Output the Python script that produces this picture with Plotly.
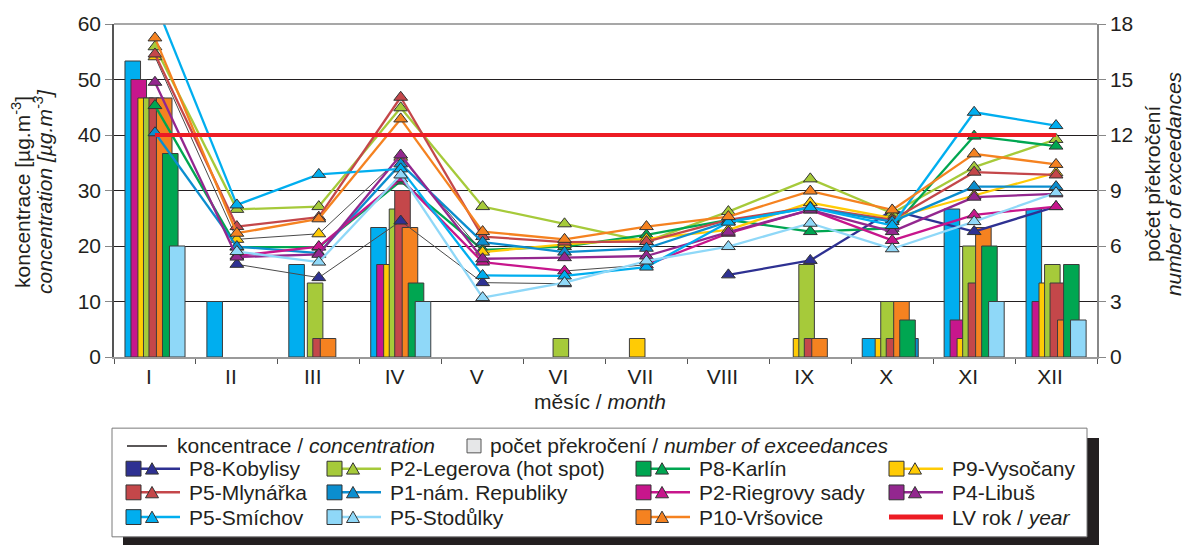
import plotly.graph_objects as go

# ---- data -------------------------------------------------------------
months = ["I", "II", "III", "IV", "V", "VI", "VII", "VIII", "IX", "X", "XI", "XII"]

# monthly mean PM10 concentration [µg.m-3]
conc_kobylisy = [None, 16.7, 14.3, 24.5, 13.4, 13.2, None, 14.8, 17.4, 26.4, 22.6, 27.1]
conc_legerova = [55.9, 26.6, 27.1, 44.9, 27.1, 24.0, 20.8, 26.2, 32.1, 25.9, 34.2, 39.2]
conc_karlin = [45.3, 19.8, 19.8, 31.7, 19.3, 19.9, 22.0, 24.7, 22.6, 23.2, 39.8, 38.0]
conc_vysocany = [54.1, 21.2, 22.2, 36.0, 18.9, 20.3, 21.3, 22.9, 27.8, 25.0, 29.1, 33.2]
conc_mlynarka = [54.6, 23.5, 25.2, 46.8, 21.7, 20.7, 20.8, 24.7, 27.0, 24.7, 33.3, 32.8]
conc_republiky = [40.4, 19.9, 18.7, 34.8, 20.7, 18.9, 19.6, 24.4, 26.9, 24.4, 30.7, 30.7]
conc_riegrovy = [None, 18.2, 19.9, 32.1, 17.1, 15.5, 16.6, 22.3, 26.5, 21.0, 25.6, 27.1]
conc_libus = [49.5, 18.0, 18.5, 36.4, 17.7, 17.9, 18.2, 22.5, 26.5, 22.6, 28.8, 29.4]
conc_smichov = [64.0, 27.4, 32.9, 33.9, 14.7, 14.6, 16.2, 24.3, 26.9, 23.7, 44.1, 41.7]
conc_stodulky = [None, 19.0, 17.1, 32.8, 10.7, 13.4, 17.3, 19.9, 24.1, 19.5, 24.4, 29.6]
conc_vrsovice = [57.5, 22.3, 24.9, 42.9, 22.6, 21.2, 23.5, 25.3, 29.9, 26.5, 36.6, 34.7]

# number of exceedances of the daily limit per month
exc_smichov = [16, 3, 5, 7, 0, 0, 0, 0, 0, 1, 8, 8]
exc_riegrovy = [15, 0, 0, 5, 0, 0, 0, 0, 0, 0, 2, 3]
exc_vysocany = [14, 0, 0, 5, 0, 0, 1, 0, 1, 1, 1, 4]
exc_legerova = [14, 0, 4, 8, 0, 1, 0, 0, 5, 3, 6, 5]
exc_mlynarka = [14, 0, 1, 9, 0, 0, 0, 0, 1, 1, 4, 4]
exc_vrsovice = [14, 0, 1, 7, 0, 0, 0, 0, 1, 3, 7, 2]
exc_karlin = [11, 0, 0, 4, 0, 0, 0, 0, 0, 2, 6, 5]
exc_republiky = [0, 0, 0, 0, 0, 0, 0, 0, 0, 1, 0, 0]
exc_stodulky = [6, 0, 0, 3, 0, 0, 0, 0, 0, 0, 3, 2]

limit_year = 40  # annual limit value

# ---- styles -----------------------------------------------------------
C = {
    "kobylisy": "#2E3192", "legerova": "#A6CA3A", "karlin": "#00A651",
    "vysocany": "#FFCB05", "mlynarka": "#C4474A", "republiky": "#0B8ECF",
    "riegrovy": "#C7168C", "libus": "#93278F", "smichov": "#00AEEF",
    "stodulky": "#8FD8F8", "vrsovice": "#F58220", "lv": "#ED1C24",
}
TXT = "#231F20"
THIN = "#4A4A4A"
FONT = "Liberation Sans, Arial, sans-serif"
FS = 21

# plot area in pixels
L, R, T, B = 114, 1097, 20, 357
W, H = R - L, B - T


def px(x):
    return (x - L) / W


def py(y):
    return (B - y) / H


fig = go.Figure()

# ---- bars: exceedances (right axis) ---------------------------------------
# (series, colour, offset in category units); later bars overlap earlier ones
bar_series = [
    (exc_smichov, C["smichov"], -0.366),
    (exc_riegrovy, C["riegrovy"], -0.293),
    (exc_vysocany, C["vysocany"], -0.208),
    (exc_legerova, C["legerova"], -0.140),
    (exc_mlynarka, C["mlynarka"], -0.073),
    (exc_vrsovice, C["vrsovice"], 0.018),
    (exc_republiky, C["republiky"], 0.128),
    (exc_karlin, C["karlin"], 0.092),
    (exc_stodulky, C["stodulky"], 0.177),
]
for vals, col, off in bar_series:
    fig.add_trace(go.Bar(
        x=months, y=[v if v else None for v in vals],
        width=0.19, offset=off,
        marker=dict(color=col, line=dict(color="#3C3C3C", width=1)),
        yaxis="y", showlegend=False, hoverinfo="skip",
    ))


# ---- lines: concentration (left axis) -------------------------------------
def segments(vals, keep):
    """x/y arrays of the month-to-month segments selected by keep(i)."""
    xs, ys = [], []
    for i in range(len(vals) - 1):
        if vals[i] is None or vals[i + 1] is None or not keep(i):
            continue
        xs += [months[i], months[i + 1], None]
        ys += [vals[i], vals[i + 1], None]
    return xs, ys


# (series, colour, month spans [i0, i1) whose segments use the thin dark line)
line_series = [
    (conc_kobylisy, C["kobylisy"], [(1, 6)]),
    (conc_legerova, C["legerova"], []),
    (conc_karlin, C["karlin"], []),
    (conc_vysocany, C["vysocany"], [(0, 4)]),
    (conc_mlynarka, C["mlynarka"], []),
    (conc_republiky, C["republiky"], []),
    (conc_riegrovy, C["riegrovy"], [(5, 6)]),
    (conc_libus, C["libus"], []),
    (conc_smichov, C["smichov"], []),
    (conc_stodulky, C["stodulky"], []),
    (conc_vrsovice, C["vrsovice"], []),
]
for vals, col, spans in line_series:
    def is_thin(i, spans=spans):
        return any(a <= i < b for a, b in spans)

    if spans:
        xs, ys = segments(vals, is_thin)
        fig.add_trace(go.Scatter(
            x=xs, y=ys, mode="lines", yaxis="y2",
            line=dict(color=THIN, width=1), showlegend=False, hoverinfo="skip"))
    xs, ys = segments(vals, lambda i: not is_thin(i))
    fig.add_trace(go.Scatter(
        x=xs, y=ys, mode="lines", yaxis="y2",
        line=dict(color=col, width=2.3), showlegend=False, hoverinfo="skip"))
    fig.add_trace(go.Scatter(
        x=months, y=vals, mode="markers", yaxis="y2",
        marker=dict(symbol="triangle-up", size=12, color=col,
                    line=dict(color="#333333", width=1)),
        showlegend=False, hoverinfo="skip"))

# annual limit value
fig.add_trace(go.Scatter(
    x=months, y=[limit_year] * len(months), mode="lines", yaxis="y2",
    line=dict(color=C["lv"], width=4), showlegend=False, hoverinfo="skip"))

# ---- axes ----------------------------------------------------------------
tickfont = dict(family=FONT, size=FS, color=TXT)
fig.update_layout(
    width=1185, height=545,
    margin=dict(l=L, r=1185 - R, t=T, b=545 - B),
    paper_bgcolor="white", plot_bgcolor="white",
    barmode="overlay",
    font=dict(family=FONT, size=FS, color=TXT),
    xaxis=dict(
        type="category", categoryarray=months, categoryorder="array",
        range=[-0.5, 11.5], tickson="boundaries",
        ticks="outside", ticklen=5, tickcolor="#555555",
        showline=True, linecolor="#9A9A9A", linewidth=2,
        showgrid=False, tickfont=tickfont, ticklabelshift=-6,
    ),
    yaxis=dict(
        side="right", range=[0, 18], dtick=3, showgrid=False,
        ticks="outside", ticklen=7, tickcolor="#888888",
        showline=True, linecolor="#888888", linewidth=1.5,
        zeroline=False, tickfont=tickfont,
    ),
    yaxis2=dict(
        side="left", overlaying="y", range=[0, 60], dtick=10,
        showgrid=True, gridcolor=TXT, gridwidth=1.2,
        ticks="outside", ticklen=7, tickcolor="#888888",
        showline=True, linecolor="#555555", linewidth=1.5,
        zeroline=False, tickfont=tickfont,
    ),
)

shapes = []
annotations = []

# grey top border of the plot
shapes.append(dict(type="line", xref="paper", yref="paper", x0=0, x1=1, y0=1, y1=1,
                   line=dict(color="#8A8A8A", width=1.5), layer="above"))


def title(text, x, y, angle=0):
    return dict(text=text, x=px(x), y=py(y), textangle=angle,
                xref="paper", yref="paper", xanchor="center", yanchor="middle",
                showarrow=False, font=dict(size=FS, color=TXT))


# axis titles
annotations += [
    title("koncentrace [µg.m<sup>-3</sup>]", 21, 190, -90),
    title("<i>concentration [µg.m<sup>-3</sup>]</i>", 43, 190, -90),
    title("počet překročení", 1152, 182, -90),
    title("<i>number of exceedances</i>", 1173, 182, -90),
    title("měsíc / <i>month</i>", 600, 402),
]


# ---- legend box ------------------------------------------------------------
def rect(x0, y0, x1, y1, fill, line_col=None, lw=0):
    return dict(type="rect", xref="paper", yref="paper",
                x0=px(x0), x1=px(x1), y0=py(y1), y1=py(y0),
                fillcolor=fill, line=dict(color=line_col or fill, width=lw), layer="above")


def hline(x0, x1, y, col, lw):
    return dict(type="line", xref="paper", yref="paper",
                x0=px(x0), x1=px(x1), y0=py(y), y1=py(y),
                line=dict(color=col, width=lw), layer="above")


def tri(cx, cy, col):
    pts = [(cx - 6.5, cy + 5.5), (cx + 6.5, cy + 5.5), (cx, cy - 6)]
    path = "M " + " L ".join(f"{px(a):.5f},{py(b):.5f}" for a, b in pts) + " Z"
    return dict(type="path", xref="paper", yref="paper", path=path,
                fillcolor=col, line=dict(color="#333333", width=1), layer="above")


def label(x, y, text):
    return dict(text=text, x=px(x), y=py(y), xref="paper", yref="paper",
                xanchor="left", yanchor="middle", showarrow=False,
                font=dict(size=FS, color=TXT))


shapes.append(rect(123, 439, 1099, 560, "#231F20"))
shapes.append(rect(112, 429, 1087, 539, "white", "#7A7A7A", 1))

shapes.append(hline(127, 167, 447, TXT, 1.5))
annotations.append(label(175, 447, "koncentrace / <i>concentration</i>"))
shapes.append(rect(467, 440, 481, 454, "#E6E7E8", "#555555", 1))
annotations.append(label(488, 447, "počet překročení / <i>number of exceedances</i>"))

legend_rows = [
    [("P8-Kobylisy", C["kobylisy"]), ("P2-Legerova (hot spot)", C["legerova"]),
     ("P8-Karlín", C["karlin"]), ("P9-Vysočany", C["vysocany"])],
    [("P5-Mlynářka", C["mlynarka"]), ("P1-nám. Republiky", C["republiky"]),
     ("P2-Riegrovy sady", C["riegrovy"]), ("P4-Libuš", C["libus"])],
    [("P5-Smíchov", C["smichov"]), ("P5-Stodůlky", C["stodulky"]),
     ("P10-Vršovice", C["vrsovice"]), ("LV rok / <i>year</i>", None)],
]
col_x = [126, 327, 636, 889]
row_y = [470, 494, 519]
for r, row in enumerate(legend_rows):
    for c, (name, col) in enumerate(row):
        x0, y0 = col_x[c], row_y[r]
        if col is None:
            shapes.append(hline(x0, x0 + 54, y0, C["lv"], 5))
        else:
            shapes.append(hline(x0 + 14, x0 + 54, y0, col, 2.5))
            shapes.append(rect(x0, y0 - 7.5, x0 + 15, y0 + 7.5, col, "#333333", 1))
            shapes.append(tri(x0 + 26, y0, col))
        annotations.append(label(x0 + 61, y0, name))

fig.update_layout(shapes=shapes, annotations=annotations)
fig.write_html("out.html")
